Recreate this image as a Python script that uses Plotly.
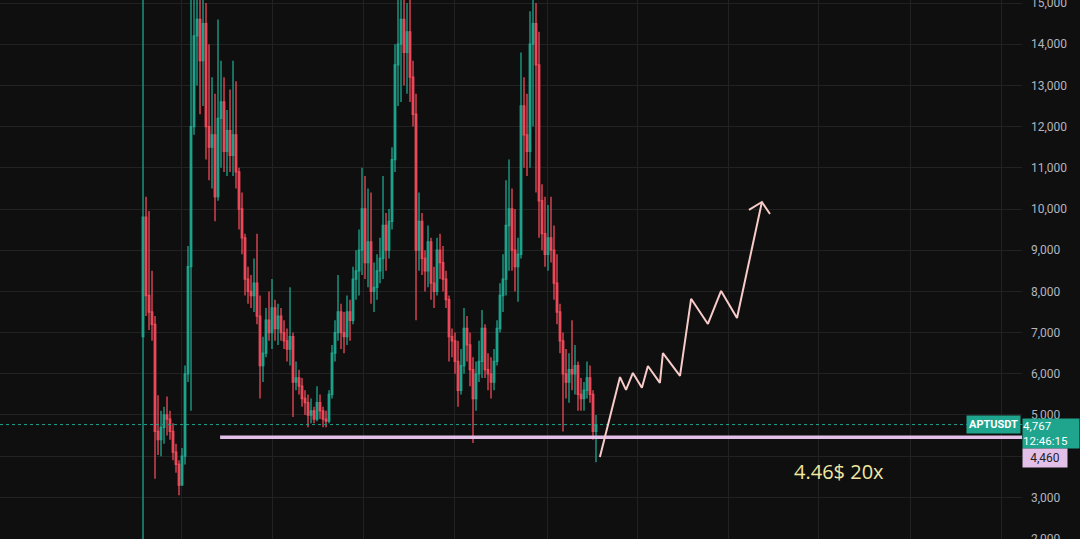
import plotly.graph_objects as go

# ---- data (APTUSDT, price scale as displayed) ----
bar_index = list(range(152))

opens = [6900,9800,7900,7500,7200,4600,4400,4700,5000,4900,
 4600,4100,3800,3300,4000,6000,8600,12000,14200,14600,
 13600,14500,12000,11500,11800,10300,12200,12600,11400,11900,
 11300,11800,10900,10000,9300,8300,8000,7900,8200,7400,
 6200,6500,7300,7000,7600,7100,7400,7000,6800,6600,
 6900,5800,5900,5700,5400,5300,5000,5100,4900,5300,
 5100,4900,4850,5500,6500,7000,7500,7000,6900,7500,
 7300,8300,8500,9000,10000,8700,9200,8000,8100,8500,
 8800,9600,9000,9700,11200,13500,14000,14600,13800,14300,
 13200,12300,9000,9700,8800,8500,9200,8200,8000,9000,
 8700,8300,7800,6900,6800,6300,5600,6200,7100,6700,
 6100,5400,6000,6300,7100,6100,6000,5800,6300,7100,
 7900,8300,9600,10000,9000,8600,8900,12500,11800,11400,
 14000,14500,13500,10200,9400,8900,9300,9000,8200,7500,
 6800,6000,5800,6100,6000,6200,5500,5400,5600,5900,
 5500,4600]

highs = [16500,10300,9950,8500,7400,5480,5100,5200,5450,5100,
 4800,4300,3900,4200,6200,9100,15500,15300,15500,15500,
 15300,15000,14000,13200,12800,14600,13600,13200,12400,12900,
 13600,13100,11000,10400,9400,8600,8400,8800,9400,7900,
 6900,7600,8000,8300,7800,7700,7600,7300,7100,8100,
 7000,6300,6100,5900,5600,5500,5400,5200,5700,5500,
 5200,5100,5600,6700,7300,8400,7700,7500,7900,7800,
 8600,9000,9500,11000,10800,10500,10400,8700,8900,9300,
 10800,9900,10000,11500,14000,15100,15300,15400,15000,15200,
 13600,12800,10400,9900,9000,9600,9300,8600,9300,9400,
 9100,8500,7900,7100,7000,6800,6600,7600,7400,7000,
 6400,6300,6800,7550,7200,6500,6400,6600,7300,8200,
 8900,10700,11200,10500,10000,9300,13800,13200,12800,14800,
 15100,15000,14300,10600,10300,10100,10300,9600,8900,7700,
 7000,6600,6500,7300,6700,6300,5900,5800,6300,6200,
 5600,5000]

lows = [1500,7400,7060,6800,3450,4030,4000,4300,4500,4400,
 3900,3600,3050,3300,3800,5800,5100,11800,13000,12300,
 12500,11200,10700,10500,9700,10200,11000,10900,10800,10900,
 10800,10500,9500,8900,7900,7700,7600,7500,7200,5400,
 5800,6400,6800,6600,6800,6700,6800,6600,6300,6200,
 4950,5600,5500,5200,5000,4700,4800,4800,4850,4900,
 4700,4700,4800,5400,6300,6800,6600,6500,6700,6800,
 7200,7800,7900,8400,8300,8100,7700,7500,7800,8200,
 8300,8500,8800,9500,10900,12500,12600,13000,12800,12600,
 12000,7300,8500,8400,8000,8100,7800,7600,7900,8300,
 8000,7600,6300,6400,6000,5200,5500,6000,6300,5700,
 4320,5100,5800,5900,5900,5600,5400,5600,6200,7000,
 7500,7900,8500,8500,8000,7750,8800,11000,10800,11000,
 12000,10400,9300,9000,8600,8500,8700,7800,7200,6500,
 4600,5400,5300,5600,5500,5100,5100,5100,5400,5300,
 4400,3850]

closes = [9800,7900,7500,7200,4600,4400,4700,5000,4900,4600,
 4100,3800,3300,4000,6000,8600,12000,14200,14600,13600,
 14500,12000,11500,11800,10300,12200,12600,11400,11900,11300,
 11800,10900,10000,9300,8300,8000,7900,8200,7400,6200,
 6500,7300,7000,7600,7100,7400,7000,6800,6600,6900,
 5800,5900,5700,5400,5300,5000,5100,4900,5300,5100,
 4900,4850,5500,6500,7000,7500,7000,6900,7500,7300,
 8300,8500,9000,10000,8700,9200,8000,8100,8500,8800,
 9600,9000,9700,11200,13500,14000,14600,13800,14300,13200,
 12300,9000,9700,8800,8500,9200,8200,8000,9000,8700,
 8300,7800,6900,6800,6300,5600,6200,7100,6700,6100,
 5400,6000,6300,7100,6100,6000,5800,6300,7100,7900,
 8300,9600,10000,9000,8600,8900,12500,11800,11400,14000,
 14500,13500,10200,9400,8900,9300,9000,8200,7500,6800,
 6000,5800,6100,6000,6200,5500,5400,5600,5900,5500,
 4600,4767]

last_price = 4767
last_time = "12:46:15"
symbol = "APTUSDT"
support_price = 4460
support_start = 25.7
note_text = "4.46$ 20x"
note_x, note_price = 232, 3640

# projected zigzag path drawn on the chart
path_idx = [152.3, 159, 161, 163.3, 166.3, 168.3, 172.3, 173.3, 179, 182.7, 188.3, 192.7, 198, 206.3]
path_price = [3980, 5920, 5610, 6020, 5660, 6190, 5780, 6500, 5950, 7820, 7210, 8010, 7355, 10170]
head_idx = [202, 206.3, 209]
head_price = [9980, 10170, 9880]

price_ticks = list(range(2000, 16000, 1000))
grid_idx = [12.67, 43, 73.33, 103.67, 134.67, 164.67, 195, 225.33, 255.67, 286]

X_RANGE = [-47.67, 293]
Y_RANGE = [1990, 15073]

UP = "#1fa58e"
DOWN = "#ef4a5a"
BG = "#0f0f0f"
GRID = "#222222"

fig = go.Figure()

fig.add_trace(go.Scatter(
    x=X_RANGE, y=[last_price, last_price], mode="lines",
    line=dict(color=UP, width=1, dash="dot"), hoverinfo="skip", showlegend=False))

fig.add_trace(go.Candlestick(
    x=bar_index, open=opens, high=highs, low=lows, close=closes,
    increasing=dict(line=dict(color=UP, width=1.3), fillcolor=UP),
    decreasing=dict(line=dict(color=DOWN, width=1.3), fillcolor=DOWN),
    whiskerwidth=0, showlegend=False, hoverinfo="skip"))

fig.add_trace(go.Scatter(
    x=[support_start, X_RANGE[1]], y=[support_price, support_price], mode="lines",
    line=dict(color="#e2c0e8", width=3.5), hoverinfo="skip", showlegend=False))

fig.add_trace(go.Scatter(
    x=path_idx, y=path_price, mode="lines",
    line=dict(color="#f6cbc8", width=2), hoverinfo="skip", showlegend=False))
fig.add_trace(go.Scatter(
    x=head_idx, y=head_price, mode="lines",
    line=dict(color="#f6cbc8", width=2), hoverinfo="skip", showlegend=False))

fig.add_annotation(x=note_x, y=note_price, text=note_text, showarrow=False,
                   font=dict(family="Open Sans", size=20, color="#f1e7a2"))

# price-scale labels
fig.add_annotation(xref="paper", x=1, y=last_price, xanchor="right", yanchor="middle",
                   xshift=-1, text=f"<b>{symbol}</b>", showarrow=False, bgcolor=UP,
                   borderpad=2, font=dict(family="Roboto", size=11, color="#ffffff"))
fig.add_annotation(xref="paper", x=1, y=last_price, xanchor="left", yanchor="top",
                   yshift=7, text=f"{last_price:,}<br>{last_time}", showarrow=False,
                   bgcolor=UP, borderpad=0, align="left", width=56,
                   font=dict(family="Roboto", size=11.5, color="#ffffff"))
fig.add_annotation(xref="paper", x=1, y=support_price, xanchor="left", yanchor="top",
                   yshift=-11, text=f"{support_price:,}", showarrow=False,
                   bgcolor="#e2c0e8", borderpad=2, width=40,
                   font=dict(family="Roboto", size=12, color="#222222"))

fig.update_layout(
    width=1080, height=539,
    margin=dict(l=0, r=58, t=0, b=0, autoexpand=False),
    paper_bgcolor=BG, plot_bgcolor=BG,
    showlegend=False, hovermode=False,
    xaxis=dict(range=X_RANGE, tickmode="array", tickvals=grid_idx, showticklabels=False,
               showgrid=True, gridcolor=GRID, zeroline=False, showline=False,
               rangeslider=dict(visible=False), fixedrange=True),
    yaxis=dict(range=Y_RANGE, side="right", tickmode="array", tickvals=price_ticks,
               tickformat=",", showgrid=True, gridcolor=GRID, zeroline=False,
               showline=False, ticks="", ticklabelstandoff=8, ticklabeloverflow="allow",
               tickfont=dict(family="Roboto", size=12, color="#b2b5be"), fixedrange=True),
)

fig.write_html("out.html", config={"displayModeBar": False},
               post_script="document.body.style.margin='0';document.body.style.background='#0f0f0f';document.body.style.overflow='hidden';")
